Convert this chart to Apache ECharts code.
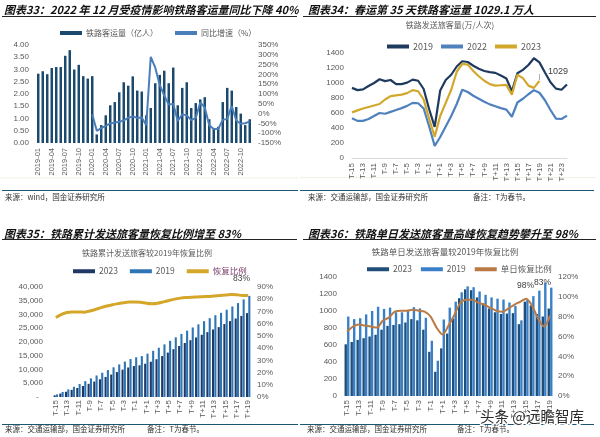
<!DOCTYPE html>
<html><head><meta charset="utf-8">
<script src="https://cdn.jsdelivr.net/npm/echarts@6/dist/echarts.min.js"></script>
<style>html,body{margin:0;padding:0;background:#fff}#c{width:600px;height:437px}</style>
</head><body><div id="c"></div>
<script>
// ---------- Chart 33: monthly railway passenger volume ----------
const months = ['2019-01','2019-02','2019-03','2019-04','2019-05','2019-06','2019-07','2019-08','2019-09','2019-10','2019-11','2019-12',
'2020-01','2020-02','2020-03','2020-04','2020-05','2020-06','2020-07','2020-08','2020-09','2020-10','2020-11','2020-12',
'2021-01','2021-02','2021-03','2021-04','2021-05','2021-06','2021-07','2021-08','2021-09','2021-10','2021-11','2021-12',
'2022-01','2022-02','2022-03','2022-04','2022-05','2022-06','2022-07','2022-08','2022-09','2022-10','2022-11','2022-12'];
const volume = [2.83,2.93,2.81,3.06,3.10,3.10,3.56,3.79,3.00,3.19,2.73,2.63,
2.73,0.35,0.73,1.13,1.54,1.67,2.07,2.48,2.34,2.72,2.14,2.10,
1.13,1.43,2.44,2.78,2.95,2.44,3.08,1.54,2.25,2.48,1.43,1.63,
1.78,1.87,0.97,0.59,0.66,1.67,2.25,2.14,1.47,1.20,0.73,0.97];
const yoy = [null,null,null,null,null,null,null,null,null,null,null,null,
-4,-88,-74,-63,-50,-46,-42,-35,-22,-15,-22,-20,
-59,290,234,146,92,46,49,-38,-4,-9,-33,-22,
57,31,-60,-79,-78,-32,-27,39,-35,-52,-49,-40];

// ---------- Chart 34: daily passengers (万人次) ----------
const days = ['T-15','T-14','T-13','T-12','T-11','T-10','T-9','T-8','T-7','T-6','T-5','T-4','T-3','T-2','T-1','T',
'T+1','T+2','T+3','T+4','T+5','T+6','T+7','T+8','T+9','T+10','T+11','T+12','T+13','T+14','T+15','T+16','T+17','T+18','T+19',
'T+20','T+21','T+22','T+23','T+24'];
const days35 = days.slice(0, 35);
const d2019 = [935,905,915,960,1000,1050,1025,1040,985,985,1005,1045,1030,920,650,415,900,1040,1110,1220,
1290,1280,1230,1190,1160,1145,1135,1100,1060,890,1130,1175,1240,1330,1275,1140,1010,925,910,980];
const d2022 = [530,495,495,520,560,600,590,615,640,665,695,735,730,660,420,160,280,420,560,720,
910,880,830,790,750,715,690,665,645,550,740,790,850,905,870,770,640,525,520,565];
const d2023 = [608,635,660,680,700,720,780,825,835,845,865,905,890,780,520,285,560,735,910,1150,
1255,1245,1160,1090,1030,985,965,970,975,845,1110,1065,965,935,1029];

// ---------- Chart 35: cumulative ----------
const cum2023 = [608,1243,1903,2583,3283,4003,4783,5608,6443,7288,8153,9058,9948,10728,11248,11533,12093,12828,13738,14888,
16143,17388,18548,19638,20668,21653,22618,23588,24563,25408,26518,27583,28548,29483,30512];
const cum2019 = [935,1840,2755,3715,4715,5765,6790,7830,8815,9800,10805,11850,12880,13800,14450,14865,15765,16805,17915,19135,
20425,21705,22935,24125,25285,26430,27565,28665,29725,30615,31745,32920,34160,35490,36765];
const cumRatio = [65.0,67.6,69.1,69.5,69.6,69.4,70.4,71.6,73.1,74.4,75.5,76.4,77.2,77.7,77.8,77.6,76.7,76.3,76.7,77.8,
79.0,80.1,80.9,81.4,81.7,81.9,82.1,82.3,82.6,83.0,83.5,83.8,83.6,83.1,83.0];

// ---------- Chart 36: daily recovery ----------
const dayRatio = [65,70,72,71,70,69,76,79,85,86,86,87,86,85,80,69,62,71,82,94,
97,97,94,92,89,86,85,88,92,95,98,91,78,70,81];

const FONT = '"Liberation Sans", Arial, "Noto Sans CJK SC", sans-serif';
const CJK = '"Noto Sans CJK SC", "Liberation Sans", sans-serif';
const GRAY = '#595959';
const NAVY = '#1f3864', BLUE = '#2e75b6', GOLD = '#d4a62a';

function catAxis(gi, data, opt) {
  return Object.assign({
    type: 'category', gridIndex: gi, data: data,
    axisLine: { show: false }, axisTick: { show: false },
    axisLabel: { interval: 1, rotate: 90, fontSize: 8, color: GRAY, fontFamily: FONT, margin: 4, hideOverlap: false },
    splitLine: { show: false }
  }, opt || {});
}
function valAxis(gi, pos, min, max, step, fmt, margin) {
  return {
    type: 'value', gridIndex: gi, position: pos, min: min, max: max, interval: step,
    axisLine: { show: false }, axisTick: { show: false }, splitLine: { show: false },
    axisLabel: { fontSize: 8, color: GRAY, fontFamily: FONT, formatter: fmt, margin: margin }
  };
}
function legend(data, left, top, gap, fs) {
  return {
    data: data, left: left, top: top, itemWidth: 22, itemHeight: 4, icon: 'rect', itemGap: gap,
    selectedMode: false,
    formatter: n => n.replace(/\u200b/g, ''),
    textStyle: { fontSize: fs, color: GRAY, fontFamily: CJK, padding: [0, 0, 0, -1] }
  };
}
function txt(x, y, s, fs, opt) {
  return { type: 'text', x: x, y: y, silent: true, style: Object.assign({ text: s, fontSize: fs, fontFamily: CJK, fill: '#333', verticalAlign: 'middle', align: 'left' }, opt || {}) };
}
function ln(x1, y1, x2, y2, color, w) {
  return { type: 'line', silent: true, shape: { x1: x1, y1: y1, x2: x2, y2: y2 }, style: { stroke: color, lineWidth: w } };
}

const titleStyle = { fontWeight: 'bold', fontStyle: 'italic', fill: '#111' };
const srcStyle = { fill: '#333' };
const plain = v => String(v);

const lg3 = legend(['2023\u200b', '2019\u200b', { name: '恢复比例', textStyle: { color: '#7a3d6a' } }], 68, 262, 12, 8.5);

const option = {
  animation: false,
  backgroundColor: '#fff',
  grid: [
    { left: 36, top: 45, width: 216, height: 98, outerBoundsMode: 'none' },
    { left: 352, top: 53, width: 215, height: 105, outerBoundsMode: 'none' },
    { left: 53, top: 287, width: 198, height: 110, outerBoundsMode: 'none' },
    { left: 344, top: 277, width: 209, height: 119, outerBoundsMode: 'none' }
  ],
  legend: [
    legend(['铁路客运量（亿人）', '同比增速（%）'], 55, 24, 17, 8),
    legend(['2019', '2022', '2023'], 382, 37, 8, 9),
    lg3,
    legend(['2023\u200b\u200b', '2019\u200b\u200b', '单日恢复比例'], 362, 260, 9, 8.5)
  ],
  xAxis: [
    catAxis(0, months, { axisLabel: { interval: 2, rotate: 90, fontSize: 7.5, color: GRAY, fontFamily: FONT, margin: 5, hideOverlap: false } }),
    catAxis(1, days, { boundaryGap: false, axisLine: { show: true, lineStyle: { color: '#d9d9d9', width: 1 } },
      axisLabel: { interval: 1, rotate: 90, fontSize: 8, color: GRAY, fontFamily: FONT, margin: 5, hideOverlap: false } }),
    catAxis(2, days35, { axisLabel: { interval: 1, rotate: 90, fontSize: 8, color: GRAY, fontFamily: FONT, margin: 3, hideOverlap: false } }),
    catAxis(3, days35, { axisLabel: { interval: 1, rotate: 90, fontSize: 8, color: GRAY, fontFamily: FONT, margin: 4, hideOverlap: false } })
  ],
  yAxis: [
    valAxis(0, 'left', 0, 4, 0.5, v => v.toFixed(2), 7),
    valAxis(0, 'right', -150, 350, 50, v => v + '%', 6),
    valAxis(1, 'left', 0, 1400, 200, plain, 8),
    valAxis(2, 'left', 0, 40000, 5000, v => v === 0 ? '-  ' : v.toLocaleString('en-US'), 10),
    valAxis(2, 'right', 0, 90, 10, v => v + '%', 6),
    valAxis(3, 'left', 0, 1400, 200, plain, 7),
    valAxis(3, 'right', 0, 120, 20, v => v + '%', 5)
  ],
  series: [
    { name: '铁路客运量（亿人）', type: 'bar', xAxisIndex: 0, yAxisIndex: 0, data: volume, barWidth: '55%',
      itemStyle: { color: '#1b4a6e' } },
    { name: '同比增速（%）', type: 'line', xAxisIndex: 0, yAxisIndex: 1, data: yoy, symbol: 'none',
      lineStyle: { color: '#4a7ebb', width: 2 }, itemStyle: { color: '#4a7ebb' }, z: 5 },

    { name: '2019', type: 'line', xAxisIndex: 1, yAxisIndex: 2, data: d2019, symbol: 'none',
      lineStyle: { color: '#1f3a5f', width: 2.2 }, itemStyle: { color: '#1f3a5f' }, z: 4 },
    { name: '2022', type: 'line', xAxisIndex: 1, yAxisIndex: 2, data: d2022, symbol: 'none',
      lineStyle: { color: '#4f81bd', width: 2.2 }, itemStyle: { color: '#4f81bd' }, z: 3 },
    { name: '2023', type: 'line', xAxisIndex: 1, yAxisIndex: 2, data: d2023, symbol: 'none',
      lineStyle: { color: '#d1a82c', width: 2.2 }, itemStyle: { color: '#d1a82c' }, z: 5 },

    { name: '2023\u200b', type: 'bar', xAxisIndex: 2, yAxisIndex: 3, data: cum2023, barGap: '10%', barCategoryGap: '22%',
      itemStyle: { color: NAVY } },
    { name: '2019\u200b', type: 'bar', xAxisIndex: 2, yAxisIndex: 3, data: cum2019,
      itemStyle: { color: BLUE } },
    { name: '恢复比例', type: 'line', xAxisIndex: 2, yAxisIndex: 4, data: cumRatio, symbol: 'none', smooth: 0.3,
      lineStyle: { color: GOLD, width: 3 }, itemStyle: { color: GOLD }, z: 5 },

    { name: '2023\u200b\u200b', type: 'bar', xAxisIndex: 3, yAxisIndex: 5, data: d2023, barGap: '5%', barCategoryGap: '18%',
      itemStyle: { color: '#1f4e79' } },
    { name: '2019\u200b\u200b', type: 'bar', xAxisIndex: 3, yAxisIndex: 5, data: d2019.slice(0, 35),
      itemStyle: { color: '#3a80c8' } },
    { name: '单日恢复比例', type: 'line', xAxisIndex: 3, yAxisIndex: 6, data: dayRatio, symbol: 'none', smooth: 0.3,
      lineStyle: { color: '#b97a45', width: 2 }, itemStyle: { color: '#b97a45' }, z: 5 }
  ],
  graphic: [
    txt(4, 10, '图表33：2022 年 12 月受疫情影响铁路客运量同比下降 40%', 11, titleStyle),
    txt(308, 10, '图表34：春运第 35 天铁路客运量 1029.1 万人', 11, titleStyle),
    txt(4, 234, '图表35：铁路累计发送旅客量恢复比例增至 83%', 11, titleStyle),
    txt(308, 234, '图表36：铁路单日发送旅客量高峰恢复趋势攀升至 98%', 11, titleStyle),
    ln(2, 16.5, 297, 16.5, '#222', 1), ln(303, 16.5, 596, 16.5, '#222', 1),
    ln(2, 239.5, 297, 239.5, '#222', 1), ln(303, 239.5, 596, 239.5, '#222', 1),
    txt(450, 25, '铁路发送旅客量(万/人次)', 8, { align: 'center', fill: GRAY }),
    txt(147, 253, '铁路累计发送旅客较2019年恢复比例', 8, { align: 'center', fill: GRAY }),
    txt(445, 252, '铁路单日发送旅客量较2019年恢复比例', 8.5, { align: 'center', fill: GRAY }),
    txt(548, 72, '1029', 9, { fill: '#404040', fontFamily: FONT }),
    ln(539.5, 74, 539.5, 80, '#999', 0.8),
    txt(233, 279, '83%', 8.5, { fill: '#404040', fontFamily: FONT }),
    txt(517, 286, '98%', 8.5, { fill: '#404040', fontFamily: FONT }),
    txt(534, 283, '83%', 8.5, { fill: '#404040', fontFamily: FONT }),
    ln(0, 178, 298, 178, '#edf2e4', 1), ln(300, 177.5, 596, 177.5, '#edf2e4', 1),
    ln(2, 190.5, 298, 190.5, '#1d5673', 1), ln(300, 190.5, 594, 190.5, '#1d5673', 1),
    ln(2, 424.5, 298, 424.5, '#1d5673', 1), ln(300, 424.5, 594, 424.5, '#1d5673', 1),
    txt(5, 197, '来源：wind，国金证券研究所', 7.5, srcStyle),
    txt(308, 197, '来源：交通运输部，国金证券研究所', 7.5, srcStyle),
    txt(473, 197, '备注：T为春节。', 7.5, srcStyle),
    txt(5, 429.5, '来源：交通运输部，国金证券研究所', 7.5, srcStyle),
    txt(147, 429.5, '备注：T为春节。', 7.5, srcStyle),
    txt(307, 429.5, '来源：交通运输部，国金证券研究所', 7.5, srcStyle),
    txt(457, 429.5, '备注：T为春节。', 7.5, srcStyle),
    txt(480, 416, '头条 @远瞻智库', 14.5, { fill: '#2b2b2b', stroke: '#ffffff', lineWidth: 3 })
  ]
};
const chart = echarts.init(document.getElementById('c'), null, { renderer: 'canvas', width: 600, height: 437 });
chart.setOption(option);
</script>
</body></html>
